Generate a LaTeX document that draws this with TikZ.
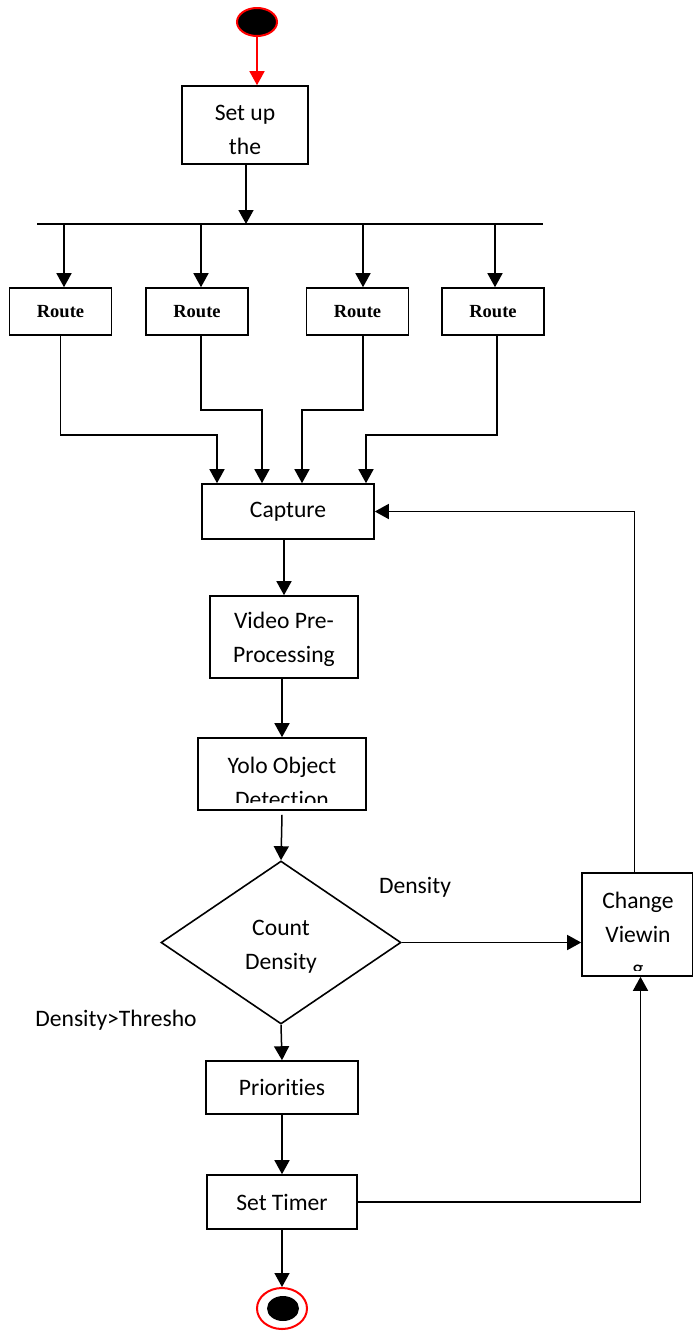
\documentclass[tikz,border=0pt]{standalone}
\usepackage{fontspec}
\setmainfont{Carlito}[Ligatures={NoCommon}]
\newfontfamily\routefont{Liberation Serif}
\usetikzlibrary{arrows.meta,shapes.geometric}
\begin{document}
\begin{tikzpicture}[x=1pt,y=-1pt,
 box/.style={draw,line width=1.6pt,inner sep=0pt,align=center,font=\fontsize{23.6}{34}\selectfont},
 routebox/.style={draw,line width=1.6pt,inner sep=0pt,minimum width=102pt,minimum height=47pt,font=\routefont\bfseries\fontsize{18.5}{22}\selectfont},
 arr/.style={line width=1.5pt,-{Triangle[length=14pt,width=15pt]}},
 ln/.style={line width=1.5pt},
 lbl/.style={font=\fontsize{23.6}{34}\selectfont,inner sep=0pt,align=center}]
\useasboundingbox (0,0) rectangle (693,1331);
% start / end
\node[ellipse,draw=red,fill=black,line width=2pt,minimum width=40pt,minimum height=28pt,inner sep=0pt] (start) at (257,22) {};
\node[ellipse,draw=red,line width=2pt,minimum width=50pt,minimum height=41pt,inner sep=0pt] (endo) at (282,1308.5) {};
\node[ellipse,fill=black,minimum width=32pt,minimum height=25pt,inner sep=0pt] (endi) at (283,1308.5) {};
% boxes
\node[box,minimum width=126pt,minimum height=78pt] (setup) at (245,125) {};
\node[lbl] (setuptxt) at (245,130) {Set up\\the};
\node[routebox] (r1) at (60.5,311.5) {Route};
\node[routebox] (r2) at (197,311.5) {Route};
\node[routebox] (r3) at (357.5,311.5) {Route};
\node[routebox] (r4) at (493,311.5) {Route};
\node[box,minimum width=172pt,minimum height=55pt] (cap) at (288,511.5) {Capture};
\node[box,minimum width=148pt,minimum height=82pt] (video) at (284,637) {};
\node[lbl] (videotxt) at (284,639.5) {Video Pre-\\Processing};
\node[box,minimum width=168pt,minimum height=72pt] (yolo) at (282,774) {};
\begin{scope}
\clip ([xshift=1pt,yshift=-1pt]yolo.north west) rectangle ([xshift=-1pt,yshift=8pt]yolo.south east);
\node[lbl] (yolotxt) at (282,782) {Yolo Object\\Detection};
\end{scope}
\node[diamond,draw,line width=1.6pt,inner sep=0pt,minimum width=240pt,minimum height=163pt] (dia) at (281,942.5) {};
\node[lbl] (diatxt) at (281,946.5) {Count\\Density};
\node[box,minimum width=111pt,minimum height=103pt] (change) at (637.5,924.5) {};
\begin{scope}
\clip ([xshift=1pt,yshift=-1pt]change.north west) rectangle ([xshift=-1pt,yshift=6pt]change.south east);
\node[lbl] (changetxt) at (638,936) {Change\\Viewin\\g};
\end{scope}
\node[box,minimum width=152pt,minimum height=53pt] (prio) at (282,1087.5) {Priorities};
\node[box,minimum width=150pt,minimum height=54pt] (timer) at (282,1202) {Set Timer};
% labels
\node[lbl] (ldens) at (415,887) {Density};
\node[lbl] (lthr) at (116,1020) {Density>Thresho};
% bar
\coordinate (barL) at (37,224);
\coordinate (barR) at (543,224);
\coordinate (barM) at (246,224);
\coordinate (b1) at (64,224);
\coordinate (b2) at (201,224);
\coordinate (b3) at (363,224);
\coordinate (b4) at (495,224);
\draw[ln] (barL) -- (barR);
% connectors
\draw[line width=1.5pt,red,-{Triangle[length=14pt,width=15pt]}] (start.south) -- (start.south |- setup.north);
\draw[arr] (setup.south -| barM) -- (barM);
\draw[arr] (b1) -- (b1 |- r1.north);
\draw[arr] (b2) -- (b2 |- r2.north);
\draw[arr] (b3) -- (b3 |- r3.north);
\draw[arr] (b4) -- (b4 |- r4.north);
\draw[arr] (r1.south) -- ++(0,99) -| ([xshift=-71pt]cap.north);
\draw[arr] ([xshift=4pt]r2.south) -- ++(0,74) -| ([xshift=-26pt]cap.north);
\draw[arr] ([xshift=5.5pt]r3.south) -- ++(0,74) -| ([xshift=14pt]cap.north);
\draw[arr] ([xshift=4pt]r4.south) -- ++(0,99) -| ([xshift=78pt]cap.north);
\draw[arr] (cap.south -| video.north) -- (video.north);
\draw[arr] (video.south -| yolo.north) -- (yolo.north);
\draw[arr] ([yshift=-4pt]yolo.south) -- (dia.north);
\draw[arr] (dia.east) -- (dia.east -| change.west);
\draw[arr] ([xshift=-3pt]change.north) |- (cap.east);
\draw[arr] (dia.south) -- (prio.north);
\draw[arr] (prio.south) -- (timer.north);
\draw[arr] (timer.east) -| ([xshift=3pt]change.south);
\draw[arr] (timer.south) -- (endo.north);
\end{tikzpicture}
\end{document}
